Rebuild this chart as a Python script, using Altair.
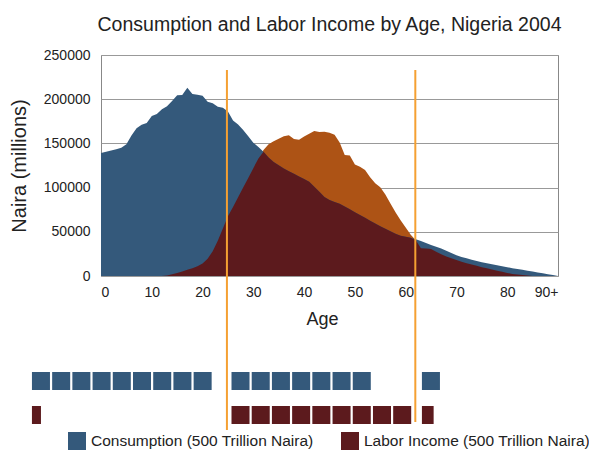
import altair as alt
import pandas as pd

# ---------------- data ----------------
ages = list(range(91))
consumption = [
    139000, 140500, 142000, 143500, 145000, 149000, 159000, 167000, 171000, 173000,
    181000, 183300, 188500, 192000, 198000, 204500, 204700, 213000, 206000, 205000,
    204000, 197000, 195300, 191500, 190200, 186000, 176000, 171500, 165200, 158000,
    150800, 146000, 140500, 134000, 129000, 125300, 121500, 118500, 115600, 112600,
    109700, 106700, 101000, 95200, 89400, 86000, 83700, 81600, 78600, 75400,
    72200, 69000, 65800, 62600, 59500, 56300, 53500, 50600, 47800, 45500,
    44500, 43200, 41500, 39500, 37200, 35200, 33000, 31000, 28700, 26000,
    23600, 21500, 20000, 18500, 17000, 15500, 14300, 13200, 12100, 11000,
    10000, 8900, 8000, 7000, 6000, 5000, 4000, 3000, 2000, 1000, 0,
]
labor = [
    0, 0, 0, 0, 0, 0, 0, 0, 0, 0,
    0, 0, 0, 500, 2000, 3500, 5000, 7000, 8800, 11000,
    14000, 19500, 28000, 40000, 53700, 67500, 78000, 89000, 100000, 111000,
    122000, 133000, 142500, 149000, 152500, 155200, 158000, 159300, 155000, 154200,
    157800, 161000, 164100, 163000, 163300, 162000, 159800, 151000, 136900, 136200,
    126000, 123700, 120000, 111600, 105000, 100500, 92300, 82100, 72100, 63000,
    54800, 46700, 40500, 31300, 31000, 30500, 27500, 24700, 22000, 20000,
    18000, 16200, 14300, 12900, 11500, 10000, 8700, 7400, 6000, 4800,
    3500, 2400, 1800, 1200, 600, 0, 0, 0, 0, 0, 0,
]
boundary_ages = [24.8, 61.9]
series_names = ["Consumption (500 Trillion Naira)", "Labor Income (500 Trillion Naira)"]
units_consumption = [9, 7, 1]      # squares per life-cycle segment
units_labor = [0.5, 9, 0.65]

# ---------------- layout / style constants ----------------
W, H = 457, 221
BLUE, RED, ORANGE, LINE = "#34597B", "#5C1A1D", "#AD5315", "#F5A032"
FONT = "Liberation Sans"
SEG_START = [-13.6, 25.7, 63.2]    # age-units where each square group begins
UNIT_W = 3.55                      # square width in age units
UNIT_PITCH = 3.98                  # square spacing in age units

df = pd.DataFrame({"age": ages, "consumption": consumption, "labor": labor})

rows = []
for name, units in zip(series_names, [units_consumption, units_labor]):
    for s, n in enumerate(units):
        i = 0
        while n - i > 0:
            frac = min(1.0, n - i)
            x0 = SEG_START[s] + i * UNIT_PITCH
            rows.append({"series": name, "x0": x0, "x1": x0 + frac * UNIT_W})
            i += 1
sq = pd.DataFrame(rows)
lines = pd.DataFrame({"age": boundary_ages})

xscale = alt.Scale(domain=[0, 90], nice=False, zero=False)
yscale = alt.Scale(domain=[0, 250000], nice=False)

xaxis = alt.Axis(
    values=list(range(0, 91, 10)),
    labelExpr="datum.value == 90 ? '90+' : datum.value",
    ticks=False, domain=False, grid=False, tickSize=0,
    labelFontSize=14, labelFont=FONT, labelColor="#222", labelPadding=9,
    title="Age", titleFontSize=18, titleFont=FONT, titleFontWeight="normal",
    titleColor="#222", titlePadding=11, titleX=221,
)
yaxis = alt.Axis(
    values=list(range(0, 250001, 50000)), format="d",
    ticks=False, domain=False, grid=True, gridColor="#999", gridWidth=1,
    labelFontSize=14, labelFont=FONT, labelColor="#222", labelPadding=11,
    title="Naira (millions)", titleFontSize=20, titleFont=FONT,
    titleFontWeight="normal", titleColor="#222", titlePadding=14,
)

base = alt.Chart(df)
orange = base.mark_area(color=ORANGE).encode(
    x=alt.X("age:Q", scale=xscale, axis=xaxis),
    y=alt.Y("labor:Q", scale=yscale, axis=yaxis),
)
blue = base.mark_area(color=BLUE).encode(
    x=alt.X("age:Q", scale=xscale), y=alt.Y("consumption:Q", scale=yscale)
)
red = base.transform_calculate(
    low="min(datum.consumption, datum.labor)"
).mark_area(color=RED).encode(
    x=alt.X("age:Q", scale=xscale), y=alt.Y("low:Q", scale=yscale)
)

color = alt.Color(
    "series:N",
    scale=alt.Scale(domain=series_names, range=[BLUE, RED]),
    legend=alt.Legend(
        orient="none", legendX=-33, legendY=377, direction="horizontal",
        title=None, symbolType="square", symbolSize=324, symbolStrokeWidth=0,
        symbolOpacity=1, labelFontSize=15.5, labelFont=FONT, labelColor="#222",
        labelOffset=5, columnPadding=27, labelLimit=400,
    ),
)
sq_c = alt.Chart(sq).transform_filter(
    alt.datum.series == series_names[0]
).mark_rect().encode(
    x=alt.X("x0:Q", scale=xscale), x2="x1:Q",
    y=alt.value(317), y2=alt.value(335), color=color,
)
sq_l = alt.Chart(sq).transform_filter(
    alt.datum.series == series_names[1]
).mark_rect().encode(
    x=alt.X("x0:Q", scale=xscale), x2="x1:Q",
    y=alt.value(351), y2=alt.value(369), color=color,
)

rule1 = alt.Chart(lines.iloc[[0]]).mark_rule(color=LINE, strokeWidth=2).encode(
    x=alt.X("age:Q", scale=xscale), y=alt.value(15), y2=alt.value(375)
)
rule2 = alt.Chart(lines.iloc[[1]]).mark_rule(color=LINE, strokeWidth=2).encode(
    x=alt.X("age:Q", scale=xscale), y=alt.value(15), y2=alt.value(367)
)

chart = alt.layer(orange, blue, red, sq_c, sq_l, rule1, rule2).properties(
    width=W, height=H,
    title=alt.Title(
        "Consumption and Labor Income by Age, Nigeria 2004",
        fontSize=19.5, font=FONT, fontWeight="normal", color="#222",
        frame="group", anchor="middle", offset=13,
    ),
    autosize=alt.AutoSizeParams(type="none"),
    padding={"left": 93, "top": 47, "right": 31, "bottom": 174},
).configure_view(stroke="#888", strokeWidth=1)

chart.save("out.html", embed_options={"renderer": "svg", "actions": False})
